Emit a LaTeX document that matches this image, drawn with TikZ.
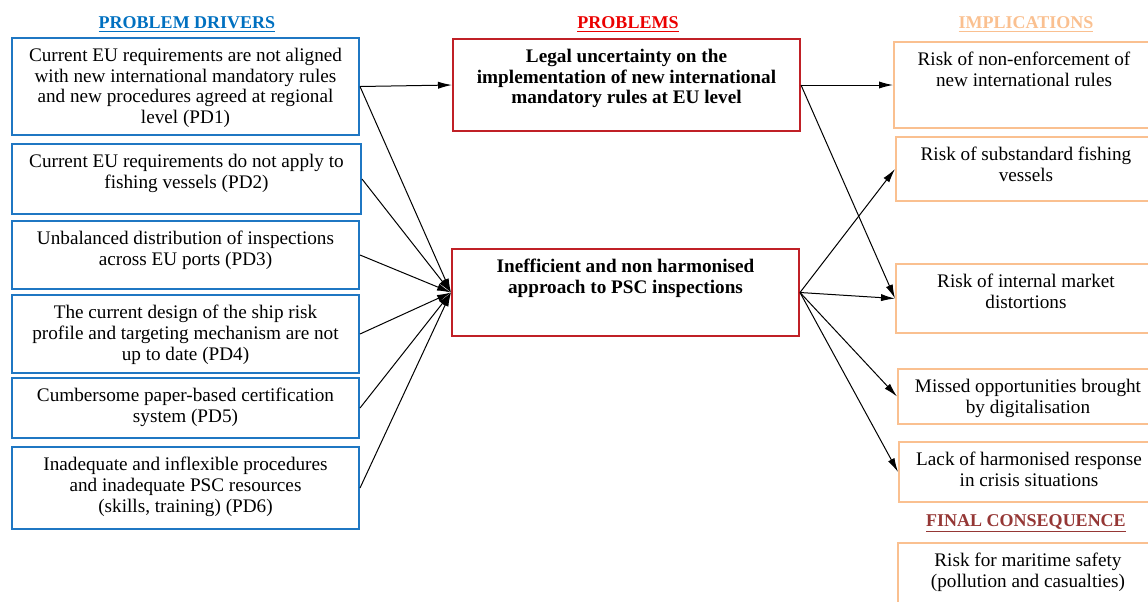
\documentclass[tikz,border=0pt]{standalone}
\usepackage{fontspec}
\setmainfont{Liberation Serif}
\usetikzlibrary{arrows.meta}
\definecolor{drvblue}{RGB}{31,119,195}
\definecolor{hdrblue}{RGB}{0,112,192}
\definecolor{probred}{RGB}{192,32,38}
\definecolor{hdrred}{RGB}{235,0,0}
\definecolor{implorange}{RGB}{250,192,144}
\definecolor{consred}{RGB}{149,55,53}

\begin{document}
\begin{tikzpicture}[x=0.5pt, y=-0.5pt,
    box/.style = {draw, line width=1pt, anchor=north west, inner sep=0pt},
    drv/.style = {box, draw=drvblue, minimum width=173.5pt},
    prob/.style = {box, draw=probred, minimum width=173.5pt},
    impl/.style = {box, draw=implorange, minimum width=130pt},
    txt/.style = {anchor=north, align=center, inner sep=0pt, yshift=-5.5pt,
                  font=\fontsize{9.6}{10.3}\selectfont},
    head/.style = {anchor=base, inner sep=0pt, font=\fontsize{9}{10}\selectfont\bfseries},
    arr/.style = {-{Latex[length=7pt,width=3.6pt]}, line width=0.5pt}]

    \useasboundingbox (0,0) rectangle (1148,601);
    \clip (0,0) rectangle (1148,601);

    % headings
    \node[head, text=hdrblue] (hdrivers) at (187,28) {\underline{PROBLEM DRIVERS}};
    \node[head, text=hdrred] (hproblems) at (628,28) {\underline{PROBLEMS}};
    \node[head, text=implorange] (himpl) at (1026,28) {\underline{IMPLICATIONS}};
    \node[head, text=consred] (hfinal) at (1026,526) {\underline{FINAL CONSEQUENCE}};

    % problem drivers
    \node[drv, minimum height=48.5pt] (pd1) at (11,37) {};
    \node[txt] (pd1t) at (pd1.north) {Current EU requirements are not aligned\\with new international mandatory rules\\and new procedures agreed at regional\\level (PD1)};
    \node[drv, minimum height=35pt, minimum width=174.5pt] (pd2) at (11,143) {};
    \node[txt] (pd2t) at (pd2.north) {Current EU requirements do not apply to\\fishing vessels (PD2)};
    \node[drv, minimum height=34pt] (pd3) at (11,220) {};
    \node[txt] (pd3t) at (pd3.north) {Unbalanced distribution of inspections\\across EU ports (PD3)};
    \node[drv, minimum height=39pt] (pd4) at (11,294) {};
    \node[txt] (pd4t) at (pd4.north) {The current design of the ship risk\\profile and targeting mechanism are not\\up to date (PD4)};
    \node[drv, minimum height=30pt] (pd5) at (11,377) {};
    \node[txt] (pd5t) at (pd5.north) {Cumbersome paper-based certification\\system (PD5)};
    \node[drv, minimum height=41pt] (pd6) at (11,446) {};
    \node[txt] (pd6t) at (pd6.north) {Inadequate and inflexible procedures\\and inadequate PSC resources\\(skills, training) (PD6)};

    % problems
    \node[prob, minimum height=46pt] (prob1) at (452,38) {};
    \node[txt, font=\fontsize{9.6}{10.3}\selectfont\bfseries] (prob1t) at (prob1.north) {Legal uncertainty on the\\implementation of new international\\mandatory rules at EU level};
    \node[prob, minimum height=43.5pt] (prob2) at (451,248) {};
    \node[txt, font=\fontsize{9.6}{10.3}\selectfont\bfseries] (prob2t) at (prob2.north) {Inefficient and non harmonised\\approach to PSC inspections};

    % implications
    \node[impl, minimum height=43pt] (impl1) at (893,41) {};
    \node[txt] (impl1t) at (impl1.north) {Risk of non-enforcement of\\new international rules};
    \node[impl, minimum height=32pt] (impl2) at (895,136) {};
    \node[txt] (impl2t) at (impl2.north) {Risk of substandard fishing\\vessels};
    \node[impl, minimum height=34.5pt] (impl3) at (895,263) {};
    \node[txt] (impl3t) at (impl3.north) {Risk of internal market\\distortions};
    \node[impl, minimum height=27.5pt] (impl4) at (897,368) {};
    \node[txt] (impl4t) at (impl4.north) {Missed opportunities brought\\by digitalisation};
    \node[impl, minimum height=30pt] (impl5) at (898,441) {};
    \node[txt] (impl5t) at (impl5.north) {Lack of harmonised response\\in crisis situations};
    \node[impl, minimum height=34pt] (final) at (897,542) {};
    \node[txt] (finalt) at (final.north) {Risk for maritime safety\\(pollution and casualties)};

    % connectors
    \draw[arr] (pd1.east) -- (prob1.west);
    \draw[arr] (pd1.east) -- (prob2.west);
    \draw[arr] (pd2.east) -- (prob2.west);
    \draw[arr] (pd3.east) -- (prob2.west);
    \draw[arr] (pd4.east) -- (prob2.west);
    \draw[arr] (pd5.east) -- (prob2.west);
    \draw[arr] (pd6.east) -- (prob2.west);

    \draw[arr] (prob1.east) -- (impl1.west);
    \draw[arr] (prob1.east) -- (impl3.west);
    \draw[arr] (prob2.east) -- (impl2.west);
    \draw[arr] (prob2.east) -- (impl3.west);
    \draw[arr] (prob2.east) -- (impl4.west);
    \draw[arr] (prob2.east) -- (impl5.west);
\end{tikzpicture}
\end{document}
